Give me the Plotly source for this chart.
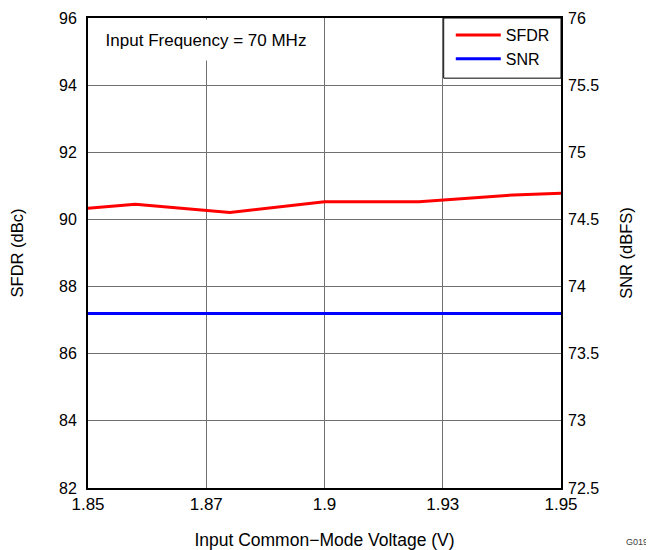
import plotly.graph_objects as go

# input common-mode voltage (V)
vcm = [1.85, 1.86, 1.88, 1.90, 1.92, 1.94, 1.95]
sfdr = [90.33, 90.45, 90.21, 90.53, 90.53, 90.73, 90.78]
snr = [73.8, 73.8, 73.8, 73.8, 73.8, 73.8, 73.8]

x_tickvals = [1.85, 1.875, 1.9, 1.925, 1.95]
x_ticktext = ["1.85", "1.87", "1.9", "1.93", "1.95"]

font = "Liberation Sans, Arial, sans-serif"
grid = "#707070"

fig = go.Figure()
fig.add_trace(
    go.Scatter(x=vcm, y=sfdr, name="SFDR", mode="lines",
               line=dict(color="#ff0000", width=3))
)
fig.add_trace(
    go.Scatter(x=vcm, y=snr, name="SNR", mode="lines", yaxis="y2",
               line=dict(color="#0000ff", width=3))
)

# page body has an 8px margin, so the figure is 8px smaller than the window
fig.update_layout(
    width=646,
    height=542,
    margin=dict(l=80, r=93, t=10, b=62),
    paper_bgcolor="white",
    plot_bgcolor="white",
    font=dict(family=font, size=16, color="black"),
    xaxis=dict(
        range=[1.85, 1.95],
        tickvals=x_tickvals,
        ticktext=x_ticktext,
        tickfont=dict(size=17),
        showgrid=True,
        gridcolor=grid,
        gridwidth=1,
        zeroline=False,
        showline=True,
        linecolor="black",
        linewidth=2,
        mirror=True,
        ticks="",
        title=dict(text="Input Common\u2212Mode Voltage (V)", standoff=20,
                   font=dict(size=17.5)),
        automargin=False,
    ),
    yaxis=dict(
        range=[82, 96],
        dtick=2,
        showgrid=True,
        gridcolor=grid,
        gridwidth=1,
        zeroline=False,
        showline=True,
        linecolor="black",
        linewidth=2,
        mirror=True,
        ticks="",
        ticklabelstandoff=6,
        title=dict(text="SFDR (dBc)", standoff=33, font=dict(size=16.5)),
        automargin=False,
    ),
    yaxis2=dict(
        range=[72.5, 76],
        dtick=0.5,
        overlaying="y",
        side="right",
        showgrid=False,
        zeroline=False,
        ticks="",
        ticklabelstandoff=6,
        title=dict(text="SNR (dBFS)", standoff=22, font=dict(size=16.5)),
        automargin=False,
    ),
    legend=dict(
        x=0.767, xanchor="left", y=1, yanchor="top",
        bgcolor="rgba(0,0,0,0)", borderwidth=0,
        itemwidth=45,
        font=dict(size=16),
    ),
    shapes=[
        # legend frame
        dict(
            type="rect", xref="paper", yref="paper",
            x0=0.752, x1=1, y0=0.872, y1=1,
            fillcolor="white", line=dict(color="black", width=1),
            layer="above",
        ),
    ],
    annotations=[
        dict(
            text="Input Frequency = 70 MHz",
            xref="paper", yref="paper",
            x=0.004, xanchor="left", y=0.997, yanchor="top",
            width=228, height=38,
            bgcolor="white", showarrow=False,
            font=dict(size=17),
        ),
        dict(
            text="G019",
            xref="paper", yref="paper",
            x=1.161, xanchor="center", y=-0.115, yanchor="middle",
            showarrow=False,
            font=dict(size=9, color="#404040"),
        ),
    ],
)

fig.write_html("out.html")
